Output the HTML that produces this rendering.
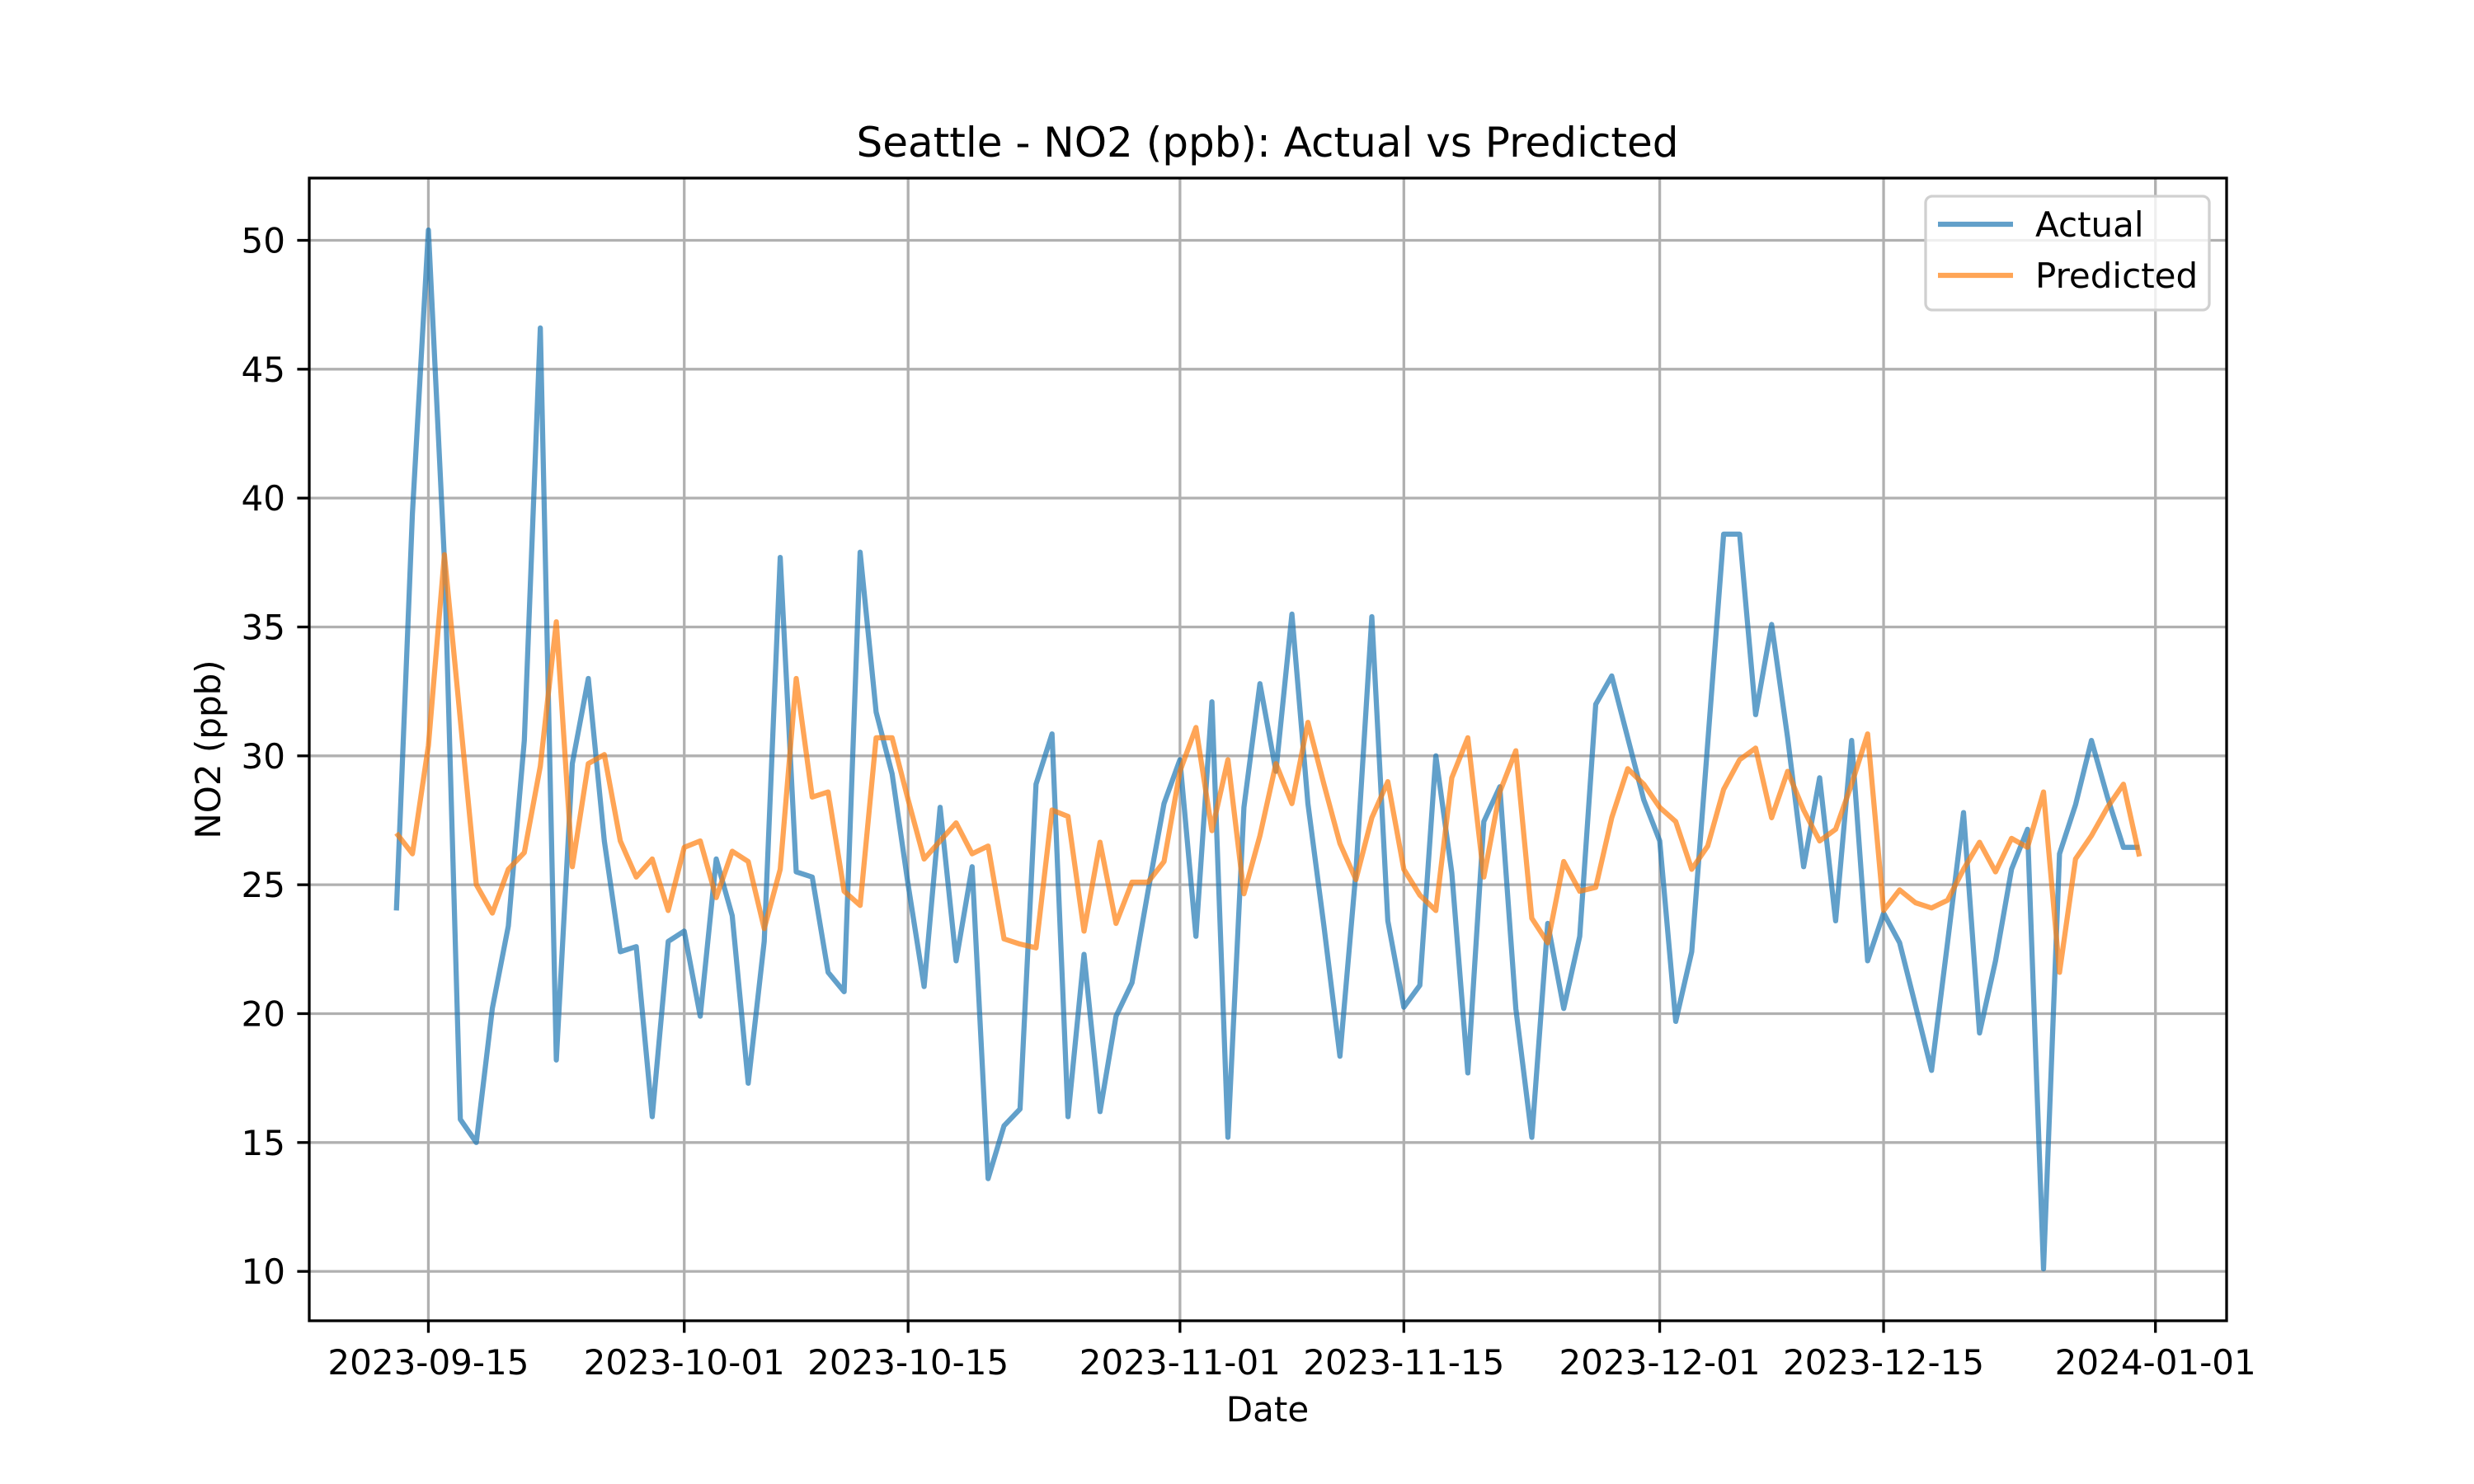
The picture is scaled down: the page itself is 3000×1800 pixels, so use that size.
<!DOCTYPE html>
<html><head><meta charset="utf-8"><style>html,body{margin:0;padding:0;background:#fff}svg{display:block}</style></head>
<body>
<svg id="chart" width="3000" height="1800" viewBox="0 0 3000 1800" xmlns="http://www.w3.org/2000/svg" font-family="'DejaVu Sans','Liberation Sans',sans-serif">
<rect width="3000" height="1800" fill="#fff"/>
<g id="grid"></g>
<g id="series"></g>
<rect x="375" y="216" width="2325" height="1386" fill="none" stroke="#000" stroke-width="3.3"/>
<g id="ticks"></g>
<text x="1537" y="190" font-size="50" text-anchor="middle">Seattle - NO2 (ppb): Actual vs Predicted</text>
<text x="1537" y="1724" font-size="42" text-anchor="middle">Date</text>
<text x="0" y="0" font-size="42" text-anchor="middle" transform="translate(267,909) rotate(-90)">NO2 (ppb)</text>
<g>
<rect x="2335" y="238" width="344" height="138" rx="8" fill="#fff" fill-opacity="0.8" stroke="#d0d0d0" stroke-width="3.3"/>
<line x1="2350" y1="272" x2="2441" y2="272" stroke="#1f77b4" stroke-opacity="0.7" stroke-width="6.25"/>
<text x="2468" y="287" font-size="42">Actual</text>
<line x1="2350" y1="334" x2="2441" y2="334" stroke="#ff7f0e" stroke-opacity="0.7" stroke-width="6.25"/>
<text x="2468" y="349" font-size="42">Predicted</text>
</g>
</svg>
<script>
const actual = [24.0,39.4,50.4,37.6,15.9,15.0,20.2,23.4,30.6,46.6,18.2,29.7,33.0,26.7,22.4,22.6,16.0,22.8,23.2,19.9,26.0,23.8,17.3,22.8,37.7,25.5,25.3,21.6,20.85,37.9,31.7,29.3,25.0,21.05,28.0,22.05,25.7,13.6,15.65,16.3,28.9,30.85,16.0,22.3,16.2,19.9,21.2,24.75,28.15,29.85,23.0,32.1,15.2,28.0,32.8,29.4,35.5,28.15,23.4,18.35,25.5,35.4,23.6,20.25,21.1,30.0,25.45,17.7,27.45,28.8,20.2,15.2,23.5,20.2,23.0,32.0,33.1,30.7,28.3,26.7,19.7,22.4,30.5,38.6,38.6,31.6,35.1,30.7,25.7,29.15,23.6,30.6,22.05,23.9,22.75,20.3,17.8,22.75,27.8,19.25,22.05,25.6,27.15,10.1,26.2,28.1,30.6,28.4,26.45,26.45];
const predicted = [27.0,26.2,30.4,37.8,31.4,25.0,23.9,25.6,26.25,29.6,35.2,25.7,29.7,30.05,26.7,25.3,26.0,24.0,26.45,26.7,24.5,26.3,25.9,23.3,25.6,33.0,28.4,28.6,24.75,24.2,30.7,30.7,28.3,26.0,26.7,27.4,26.2,26.5,22.9,22.7,22.55,27.9,27.65,23.2,26.65,23.5,25.1,25.1,25.9,29.4,31.1,27.1,29.85,24.65,26.9,29.7,28.15,31.3,28.9,26.6,25.2,27.6,29.0,25.6,24.6,24.0,29.15,30.7,25.3,28.6,30.2,23.7,22.75,25.9,24.75,24.9,27.6,29.5,28.9,28.0,27.45,25.6,26.5,28.7,29.85,30.3,27.6,29.4,27.9,26.7,27.15,28.9,30.85,24.0,24.8,24.3,24.1,24.4,25.6,26.65,25.5,26.8,26.45,28.6,21.6,26.0,26.9,28.0,28.9,26.1];
const yTicks = [10,15,20,25,30,35,40,45,50];
const xTickDays = [2,18,32,49,63,79,93,110];
const xTickLabels = ["2023-09-15","2023-10-01","2023-10-15","2023-11-01","2023-11-15","2023-12-01","2023-12-15","2024-01-01"];

const NS="http://www.w3.org/2000/svg";
const L=375,R=2700,T=216,B=1602;
const n=actual.length;
const xmin=-(n-1)*0.05, xmax=(n-1)*1.05;
const all=actual.concat(predicted);
const dmin=Math.min(...all), dmax=Math.max(...all);
const ymin=dmin-(dmax-dmin)*0.05, ymax=dmax+(dmax-dmin)*0.05;
const xs=d=>L+(d-xmin)/(xmax-xmin)*(R-L);
const ys=v=>B-(v-ymin)/(ymax-ymin)*(B-T);
function mk(tag,attrs,parent){const e=document.createElementNS(NS,tag);for(const k in attrs)e.setAttribute(k,attrs[k]);parent.appendChild(e);return e;}
const grid=document.getElementById('grid'),ticks=document.getElementById('ticks'),series=document.getElementById('series');
yTicks.forEach(v=>{
  const y=ys(v);
  const g=mk('line',{x1:L,x2:R,y1:y,y2:y,stroke:'#b0b0b0','stroke-width':3.3},grid);
  
  
  const t=mk('line',{x1:L-14.6,x2:L,y1:y,y2:y,stroke:'#000','stroke-width':3.3},ticks);
  
  
  const tx=mk('text',{x:L-29,y:y+15,'font-size':42,'text-anchor':'end'},ticks);
  tx.textContent=String(v);
  
  
});
xTickDays.forEach((d,i)=>{
  const x=xs(d);
  const g=mk('line',{x1:x,x2:x,y1:T,y2:B,stroke:'#b0b0b0','stroke-width':3.3},grid);
  
  
  const t=mk('line',{x1:x,x2:x,y1:B,y2:B+14.6,stroke:'#000','stroke-width':3.3},ticks);
  
  
  const tx=mk('text',{x:x,y:B+65,'font-size':42,'text-anchor':'middle'},ticks);
  tx.textContent=xTickLabels[i];
  
  
});
function line(vals,color,name){
  const pts=vals.map((v,i)=>xs(i).toFixed(1)+','+ys(v).toFixed(1)).join(' ');
  const p=mk('polyline',{points:pts,fill:'none',stroke:color,'stroke-opacity':0.7,'stroke-width':6.25,'stroke-linejoin':'round'},series);
  
  
}
line(actual,'#1f77b4','actual-line');
line(predicted,'#ff7f0e','predicted-line');
</script>
</body></html>
